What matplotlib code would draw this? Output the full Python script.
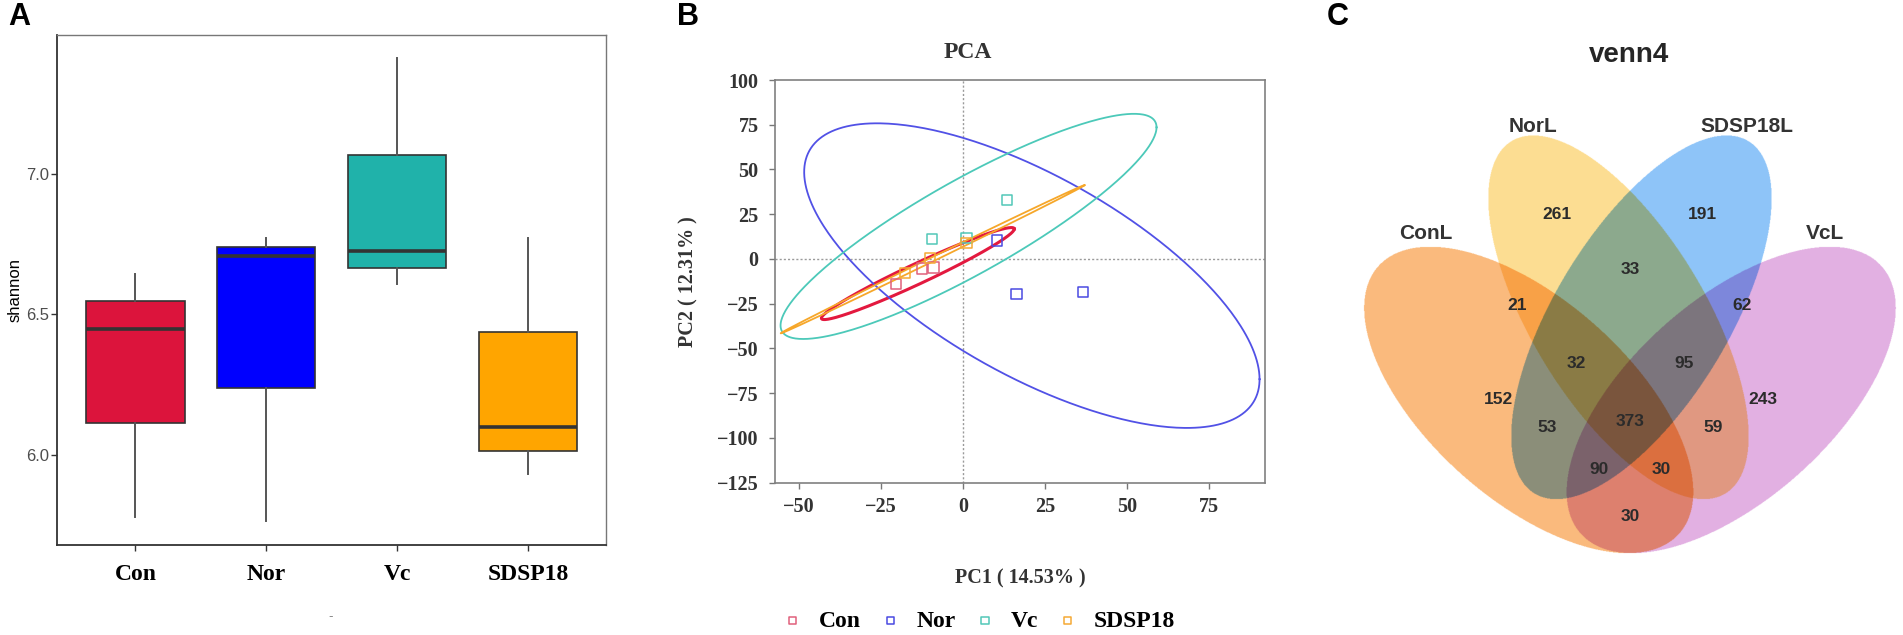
import numpy as np
import matplotlib
matplotlib.use("Agg")
import matplotlib.pyplot as plt

W, H = 1903, 635

# ---------------- panel A : shannon index box plot ----------------
groups = ["Con", "Nor", "Vc", "SDSP18"]
box_colors = ["#dc143c", "#0000ff", "#20b2aa", "#ffa500"]
whisker_low = [5.780, 5.765, 6.608, 5.932]
q1 = [6.114, 6.237, 6.666, 6.015]
median = [6.449, 6.708, 6.724, 6.100]
q3 = [6.546, 6.741, 7.066, 6.436]
whisker_high = [6.643, 6.773, 7.410, 6.770]

# ---------------- panel B : PCA ----------------
pca_groups = ["Con", "Nor", "Vc", "SDSP18"]
line_colors = ["#e3193f", "#5151e6", "#4cc9b9", "#f6a72a"]
point_colors = ["#e0607c", "#4a4ae2", "#52c8b8", "#f5aa35"]
pc1 = [[-20.5, -12.4, -9.0], [10.4, 16.3, 36.5], [-9.4, 1.1, 13.5], [-17.7, -10.1, 1.1]]
pc2 = [[-14.0, -5.3, -4.7], [10.3, -19.6, -18.5], [11.2, 11.6, 32.8], [-7.9, 0.5, 9.0]]
# group ellipses: centre, half range on PC1 / PC2, correlation
ell_cx = [-13.75, 21.0, 1.7, -9.25]
ell_cy = [-8.15, -9.3, 18.2, -0.15]
ell_hx = [29.4, 69.4, 57.3, 46.3]
ell_hy = [25.7, 85.1, 62.9, 41.4]
ell_rho = [0.97, -0.68, 0.88, 0.9995]

# ---------------- panel C : venn4 ----------------
set_names = ["ConL", "NorL", "SDSP18L", "VcL"]
set_rgb = [(250, 186, 125), (253, 221, 146), (142, 196, 248), (226, 176, 226)]
region_sets = ["N", "S", "NS", "CN", "SV", "CNS", "NSV", "C", "V",
               "CNSV", "CS", "NV", "CSV", "CNV", "CV"]
region_counts = [261, 191, 33, 21, 62, 32, 95, 152, 243, 373, 53, 59, 90, 30, 30]


def fx(px):
    return px / W


def fy(py):
    return 1 - py / H


fig = plt.figure(figsize=(W / 100, H / 100), dpi=100)
sans = "Liberation Sans"
serif = "Liberation Serif"

# ================= A =================
axA = fig.add_axes([fx(57), fy(545), (606.3 - 57) / W, (545 - 35) / H])
stats = []
for i, g in enumerate(groups):
    stats.append(dict(label=g, whislo=whisker_low[i], q1=q1[i], med=median[i],
                      q3=q3[i], whishi=whisker_high[i], fliers=[]))
bp = axA.bxp(stats, positions=range(1, len(groups) + 1), widths=0.75,
             patch_artist=True, showcaps=False, showfliers=False,
             boxprops=dict(edgecolor="#333333", linewidth=1.2),
             whiskerprops=dict(color="#555555", linewidth=1.4),
             medianprops=dict(color="#333333", linewidth=2.6))
for patch, c in zip(bp["boxes"], box_colors):
    patch.set_facecolor(c)
axA.set_xlim(0.4, 4.6)
axA.set_ylim(5.68, 7.493)
axA.set_yticks([6.0, 6.5, 7.0])
axA.set_yticklabels(["6.0", "6.5", "7.0"], fontsize=12, family=sans, color="#4d4d4d")
axA.set_xticks(range(1, len(groups) + 1))
axA.set_xticklabels(groups, fontsize=17, family=serif, fontweight="bold", color="black")
axA.tick_params(axis="both", direction="out", length=4, width=1, color="#333333")
axA.tick_params(axis="x", pad=10)
axA.tick_params(axis="y", pad=2)
for s in ["left", "bottom"]:
    axA.spines[s].set_color("#333333")
    axA.spines[s].set_linewidth(1.3)
for s in ["top", "right"]:
    axA.spines[s].set_color("#777777")
    axA.spines[s].set_linewidth(1.0)
fig.text(fx(15), fy(290), "shannon", rotation=90, ha="center", va="center",
         fontsize=12, family=sans)
fig.text(fx(331), fy(617), "-", ha="center", va="center", fontsize=9, color="#888888")
fig.text(fx(8), fy(2), "A", ha="left", va="top", fontsize=22, fontweight="bold", family=sans)

# ================= B =================
axB = fig.add_axes([fx(775.3), fy(482.7), (1264.8 - 775.3) / W, (482.7 - 80) / H])
axB.axhline(0, color="#9a9a9a", linestyle=(0, (1.5, 1.5)), linewidth=1.0, zorder=1)
axB.axvline(0, color="#9a9a9a", linestyle=(0, (1.5, 1.5)), linewidth=1.0, zorder=1)
t = np.linspace(0, 2 * np.pi, 400)
handles = []
for i, g in enumerate(pca_groups):
    ex = ell_cx[i] + ell_hx[i] * np.cos(t)
    ey = ell_cy[i] + ell_hy[i] * (ell_rho[i] * np.cos(t)
                                  + np.sqrt(1 - ell_rho[i] ** 2) * np.sin(t))
    axB.plot(ex, ey, color=line_colors[i], linewidth=2.2 if i == 0 else 1.3, zorder=2)
for i, g in enumerate(pca_groups):
    h = axB.scatter(pc1[i], pc2[i], marker="s", s=55, facecolors="none",
                    edgecolors=point_colors[i], linewidths=1.1, zorder=3, label=g)
    handles.append(h)
axB.set_xlim(-57.2, 92)
axB.set_ylim(-125, 100)
axB.set_xticks([-50, -25, 0, 25, 50, 75])
axB.set_yticks(np.arange(-125, 101, 25))
for lab in axB.get_xticklabels() + axB.get_yticklabels():
    lab.set_family(serif)
    lab.set_fontweight("bold")
    lab.set_fontsize(14.5)
    lab.set_color("#333333")
axB.tick_params(axis="both", direction="out", length=4, width=1, color="#777777")
axB.tick_params(axis="y", pad=8)
axB.tick_params(axis="x", pad=6)
for s in axB.spines.values():
    s.set_color("#808080")
    s.set_linewidth(1.2)
fig.text(fx(968), fy(53), "PCA", ha="center", va="center", fontsize=17,
         family=serif, fontweight="bold", color="#333333")
fig.text(fx(1020), fy(578), "PC1 ( 14.53% )", ha="center", va="center", fontsize=14.5,
         family=serif, fontweight="bold", color="#333333")
fig.text(fx(688), fy(281.5), "PC2 ( 12.31% )", ha="center", va="center", rotation=90,
         fontsize=14.5, family=serif, fontweight="bold", color="#333333")
axB.legend(handles, pca_groups, loc="center", bbox_to_anchor=(fx(978), fy(621)),
           bbox_transform=fig.transFigure, ncol=4, frameon=False,
           prop=dict(family=serif, weight="bold", size=17), handletextpad=0.6,
           columnspacing=0.75, markerscale=0.7, handlelength=1.0, borderpad=0)
fig.text(fx(677), fy(2), "B", ha="left", va="top", fontsize=22, fontweight="bold", family=sans)

# ================= C =================
# layout: ellipse centre (u, v), half widths, correlation, in pixel units around the diagram
venn_u = [-101.3, -11.5, 11.5, 101.3]
venn_v = [0.0, 82.7, 82.7, 0.0]
venn_hx = [164.7, 130.3, 130.3, 164.7]
venn_hy = [153.3, 182.0, 182.0, 153.3]
venn_rho = [-0.6, -0.654, 0.654, 0.6]
label_uv = [(-204, 166.7), (-96.7, 273.3), (117.3, 273.3), (195, 166.7)]
count_uv = [(-72.7, 185.7), (72.7, 185.7), (0, 130), (-113.3, 94.3), (111.7, 94.3),
            (-54, 36.7), (54, 36.7), (-131.7, 1), (133.3, 1), (0, -21),
            (-83.3, -27.7), (83.3, -27.7), (-30.7, -70), (31, -70), (0, -116.7)]

axC = fig.add_axes([fx(1300), 0, 603 / W, 1])
u0, u1, v0, v1 = -330, 273, -235, 400
uu, vv = np.meshgrid(np.linspace(u0, u1, 2 * (u1 - u0)), np.linspace(v0, v1, 2 * (v1 - v0)))
img = np.ones(uu.shape + (3,))
for i in range(len(set_names)):
    # inside test of the correlated ellipse
    a = (uu - venn_u[i]) / venn_hx[i]
    b = (vv - venn_v[i]) / venn_hy[i]
    r = venn_rho[i]
    inside = (a ** 2 - 2 * r * a * b + b ** 2) / (1 - r ** 2) <= 1
    img[inside] *= np.array(set_rgb[i]) / 255.0
axC.imshow(img, extent=(u0, u1, v0, v1), origin="lower", interpolation="antialiased",
           aspect="auto")
axC.set_xlim(u0, u1)
axC.set_ylim(v0, v1)
axC.axis("off")
for name, (lu, lv) in zip(set_names, label_uv):
    axC.text(lu, lv, name, ha="center", va="center", fontsize=15, fontweight="bold",
             family=sans, color="#333333")
for n, (cu, cv) in zip(region_counts, count_uv):
    axC.text(cu, cv, str(n), ha="center", va="center", fontsize=12.5, fontweight="bold",
             family=sans, color="#2b2b2b")
fig.text(fx(1628.6), fy(54.7), "venn4", ha="center", va="center", fontsize=20,
         fontweight="bold", family=sans, color="#262626")
fig.text(fx(1327), fy(2), "C", ha="left", va="top", fontsize=22, fontweight="bold", family=sans)

fig.savefig("out.png", dpi=100)
